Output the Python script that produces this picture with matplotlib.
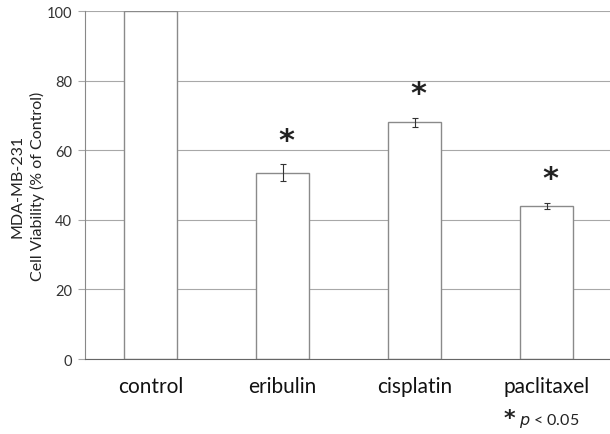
import numpy as np
import matplotlib
matplotlib.use("Agg")
import matplotlib.pyplot as plt

plt.rcParams['font.family'] = ['Lato', 'DejaVu Sans']

treatments = ['control', 'eribulin', 'cisplatin', 'paclitaxel']
viability = [100, 53.5, 68, 44]
errors = [0, 2.4, 1.3, 0.8]
significant = [False, True, True, True]

fig = plt.figure(figsize=(6.1, 4.35), dpi=100)
ax = fig.add_axes([0.139, 0.1724, 0.861, 0.80])

x = np.arange(len(treatments))
ax.bar(x, viability, width=0.4, color='white', edgecolor='#8a8a8a', linewidth=1.0, zorder=2)
ax.errorbar(x[1:], viability[1:], yerr=errors[1:], fmt='none', ecolor='#333333',
            elinewidth=0.8, capsize=2.5, capthick=0.8, zorder=3)

# significance stars
for xi, v, e, s in zip(x, viability, errors, significant):
    if s:
        ax.text(xi + 0.03, v + e + 7, '*', ha='center', va='center',
                fontsize=22, fontweight='bold', color='#222222', family='DejaVu Sans')

ax.set_xlim(-0.5, 3.48)
ax.set_ylim(0, 100)
ax.set_yticks([0, 20, 40, 60, 80, 100])
ax.yaxis.grid(True, color='#a8a8a8', linewidth=0.8, zorder=0)
ax.set_axisbelow(True)

ax.set_xticks(x)
ax.set_xticklabels(treatments, fontsize=15, color='#111111')
ax.tick_params(axis='x', length=0, pad=12)
ax.tick_params(axis='y', length=5, color='#a8a8a8', labelsize=10.5, labelcolor='#333333', pad=4)

for side in ['top', 'right']:
    ax.spines[side].set_visible(False)
ax.spines['left'].set_color('#888888')
ax.spines['bottom'].set_color('#666666')

ax.set_ylabel('MDA-MB-231\nCell Viability (% of Control)', fontsize=11.5, color='#222222',
              labelpad=1, linespacing=1.45)

fig.text(0.826, 0.022, '*', fontsize=16, fontweight='bold', color='#222222',
         ha='left', va='baseline', family='DejaVu Sans')
fig.text(0.851, 0.023, '$p$ < 0.05', fontsize=11.5, color='#222222', ha='left', va='baseline')

fig.savefig('out.png', dpi=100)
